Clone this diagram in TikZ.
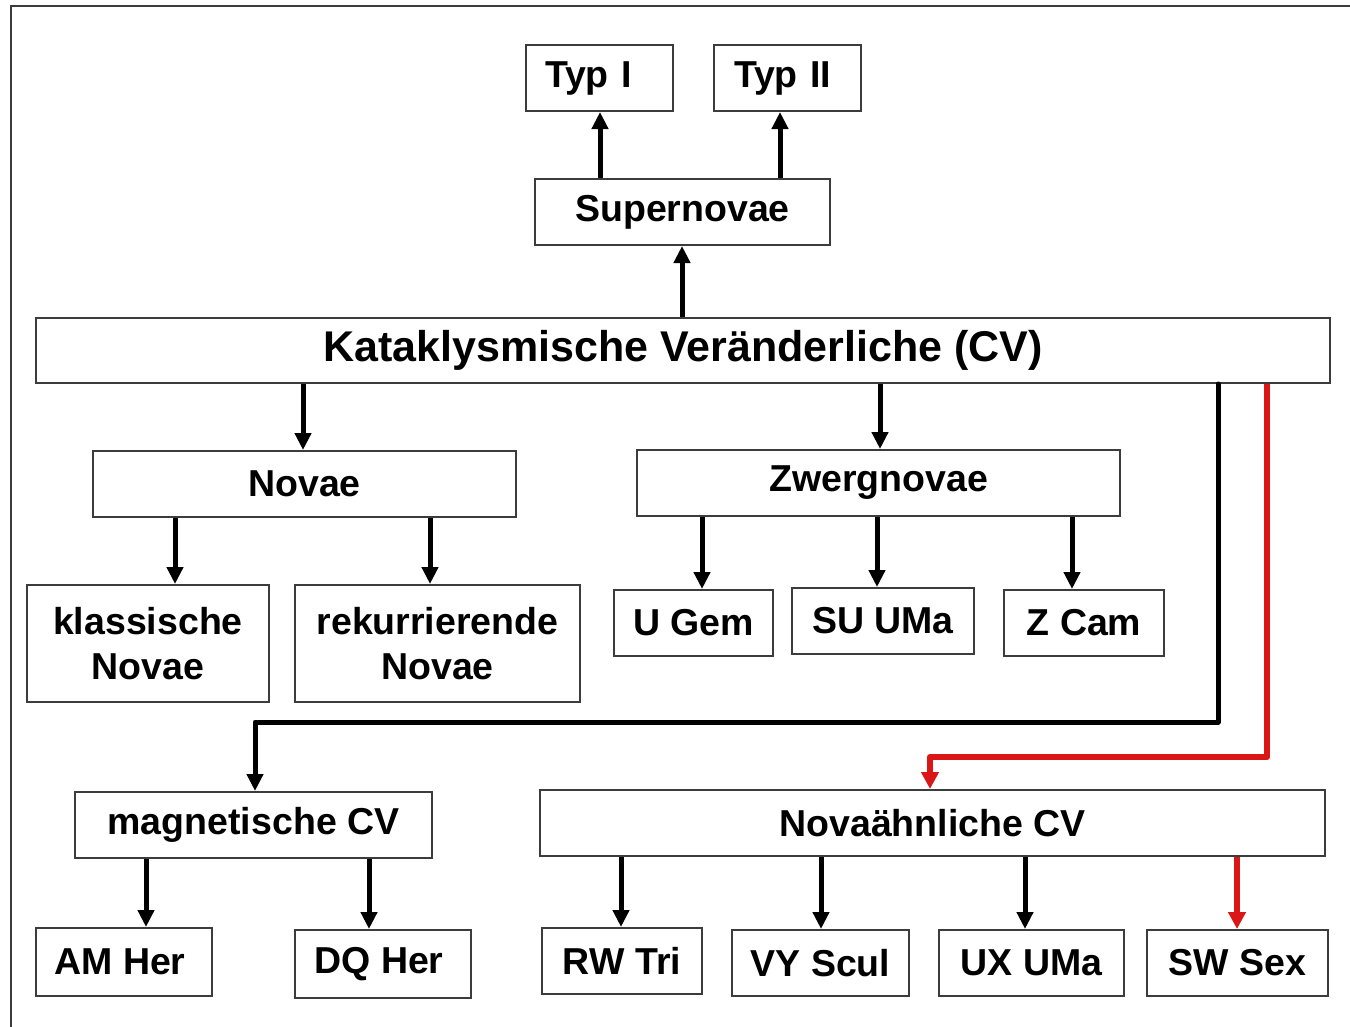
\documentclass[tikz,border=0pt]{standalone}
\usepackage{fontspec}
\setmainfont{Liberation Sans}
\usetikzlibrary{arrows.meta}
\definecolor{cvred}{RGB}{218,22,22}
\definecolor{boxline}{RGB}{60,60,60}
\begin{document}
\begin{tikzpicture}[x=1pt,y=-1pt,
  box/.style={draw=boxline,line width=2pt,rectangle,inner sep=0pt,align=center,
    font=\fontsize{37.5}{45}\selectfont\bfseries},
  arr/.style={line width=5pt,line join=round,-{Triangle[length=17pt,width=16pt]}},
  arrred/.style={line width=6pt,line join=round,draw=cvred,-{Triangle[length=17pt,width=17pt,fill=cvred]}}]
\useasboundingbox (0,0) rectangle (1350,1026);
\fill[white] (0,0) rectangle (1350,1026);
\draw[boxline,line width=2pt] (11,1030) -- (11,6) -- (1355,6);
% nodes
\node[box,minimum width=147pt,minimum height=66pt,text width=147pt,align=left] (typ1) at (599.5,78) {\hspace*{19pt}Typ I};
\node[box,minimum width=147pt,minimum height=66pt,text width=147pt,align=left] (typ2) at (787.5,78) {\hspace*{20pt}Typ II};
\node[box,minimum width=295pt,minimum height=66pt] (super) at (682.5,212) {Supernovae};
\node[box,minimum width=1294pt,minimum height=65pt,font=\fontsize{43}{50}\selectfont\bfseries] (cv) at (683,350.5) {Kataklysmische Veränderliche (CV)};
\node[box,minimum width=423pt,minimum height=66pt] (novae) at (304.5,484) {Novae};
\node[box,minimum width=483pt,minimum height=66pt] (zwerg) at (878.5,483) {Zwergnovae};
\node[box,minimum width=242pt,minimum height=117pt] (klass) at (148,643.5) {klassische\\Novae};
\node[box,minimum width=285pt,minimum height=117pt] (rekurr) at (437.5,643.5) {rekurrierende\\Novae};
\node[box,minimum width=159pt,minimum height=66pt] (ugem) at (693.5,623) {U Gem};
\node[box,minimum width=182pt,minimum height=66pt] (suuma) at (883,621) {SU UMa};
\node[box,minimum width=160pt,minimum height=66pt] (zcam) at (1084,623) {Z Cam};
\node[box,minimum width=357pt,minimum height=66pt] (magn) at (253.5,825) {magnetische CV};
\node[box,minimum width=785pt,minimum height=66pt] (novaae) at (932.5,823) {Novaähnliche CV};
\node[box,minimum width=176pt,minimum height=68pt] (amher) at (124,962) {AM Her\hspace*{8pt}};
\node[box,minimum width=176pt,minimum height=68pt] (dqher) at (383,964) {DQ Her\hspace*{8pt}};
\node[box,minimum width=160pt,minimum height=66pt] (rwtri) at (622,961) {RW Tri};
\node[box,minimum width=177pt,minimum height=66pt] (vyscul) at (820.5,963) {VY Scul};
\node[box,minimum width=185pt,minimum height=66pt] (uxuma) at (1031.5,963) {UX UMa};
\node[box,minimum width=181pt,minimum height=66pt] (swsex) at (1237.5,963) {SW Sex};
% connectors
\draw[arr] (super.north -| 600,0) -- (typ1.south -| 600,0);
\draw[arr] (super.north -| 780,0) -- (typ2.south -| 780,0);
\draw[arr] (cv.north -| 682,0) -- (super.south -| 682,0);
\draw[arr] (cv.south -| 303,0) -- (novae.north -| 303,0);
\draw[arr] (cv.south -| 880,0) -- (zwerg.north -| 880,0);
\draw[arr] (novae.south -| 175,0) -- (klass.north -| 175,0);
\draw[arr] (novae.south -| 430,0) -- (rekurr.north -| 430,0);
\draw[arr] (zwerg.south -| 702,0) -- (ugem.north -| 702,0);
\draw[arr] (zwerg.south -| 877,0) -- (suuma.north -| 877,0);
\draw[arr] (zwerg.south -| 1072,0) -- (zcam.north -| 1072,0);
\draw[arr,line cap=round] (cv.south -| 1218,0) -- (1218,722) -| (magn.north -| 255,0);
\draw[arrred] (cv.south -| 1267,0) -- (1267,757) -| (novaae.north -| 930,0);
\draw[arr] (magn.south -| 146,0) -- (amher.north -| 146,0);
\draw[arr] (magn.south -| 369,0) -- (dqher.north -| 369,0);
\draw[arr] (novaae.south -| 621,0) -- (rwtri.north -| 621,0);
\draw[arr] (novaae.south -| 821,0) -- (vyscul.north -| 821,0);
\draw[arr] (novaae.south -| 1025,0) -- (uxuma.north -| 1025,0);
\draw[arrred] (novaae.south -| 1237,0) -- (swsex.north -| 1237,0);
\end{tikzpicture}
\end{document}
